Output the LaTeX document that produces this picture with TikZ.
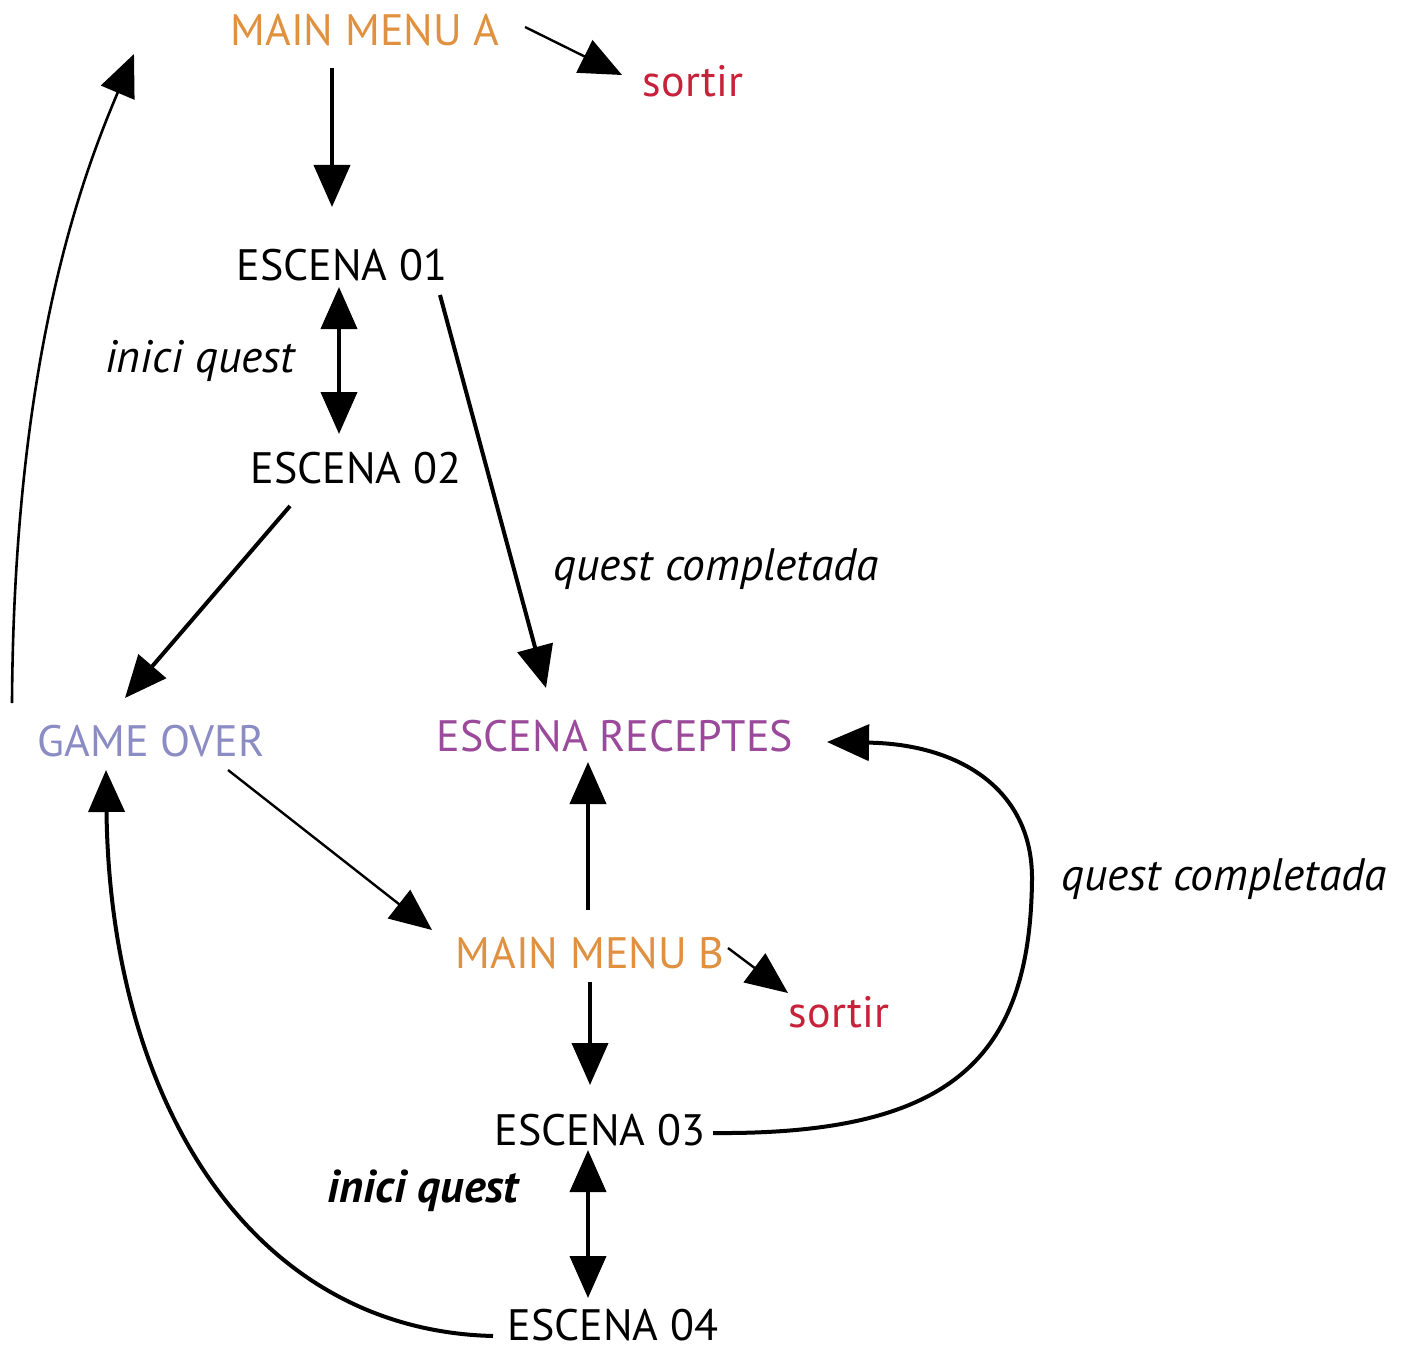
\documentclass[tikz,border=0pt]{standalone}
\usepackage{fontspec}
\setmainfont{PT Sans}
\usetikzlibrary{arrows.meta}
\definecolor{menuor}{HTML}{E0913F}
\definecolor{exitred}{HTML}{C8213A}
\definecolor{govio}{HTML}{8B8CC4}
\definecolor{recpur}{HTML}{9B4A9B}
\begin{document}
\begin{tikzpicture}[x=1pt,y=-1pt,
  lbl/.style={anchor=base,inner sep=0pt,font=\fontsize{44}{48}\selectfont},
  ital/.style={anchor=base,inner sep=0pt,font=\fontsize{45.5}{48}\selectfont\itshape},
  arr/.style={line width=4pt,-{Triangle[length=42pt,width=36pt]}},
  darr/.style={line width=4pt,{Triangle[length=42pt,width=36pt]}-{Triangle[length=42pt,width=36pt]}},
  thin/.style={line width=2.4pt,-{Triangle[length=42pt,width=36pt]}}]
\useasboundingbox (0,0) rectangle (1408,1348);
% nodes
\node[lbl,text=menuor] (mma) at (365,46) {MAIN MENU A};
\node[lbl,text=exitred] (sa) at (693,97) {sortir};
\node[lbl] (e01) at (342,280) {ESCENA 01};
\node[ital] (iq1) at (200,372) {inici quest};
\node[lbl] (e02) at (356,483) {ESCENA 02};
\node[ital] (qc1) at (716,580) {quest completada};
\node[lbl,text=govio] (go) at (151,756) {GAME OVER};
\node[lbl,text=recpur] (er) at (615,751) {ESCENA RECEPTES};
\node[ital] (qc2) at (1224,890) {quest completada};
\node[lbl,text=menuor] (mmb) at (590,968) {MAIN MENU B};
\node[lbl,text=exitred] (sb) at (839,1027) {sortir};
\node[lbl] (e03) at (600,1145) {ESCENA 03};
\node[ital,font=\fontsize{46}{48}\selectfont\bfseries\itshape] (iq2) at (423,1202) {inici quest};
\node[lbl] (e04) at (613,1340) {ESCENA 04};
% ports
\coordinate (mma-r) at (525,27);  \coordinate (sa-l) at (622,75);
\coordinate (mma-s) at (332,68);  \coordinate (e01-n) at (332,207);
\coordinate (e01-s) at (339,287); \coordinate (e02-n) at (339,434);
\coordinate (e01-se) at (440,295); \coordinate (er-nw) at (546,688);
\coordinate (e02-sw) at (290,506); \coordinate (go-ne) at (125,698);
\coordinate (go-nw) at (12,703);  \coordinate (mma-w) at (134,54);
\coordinate (go-se) at (228,770); \coordinate (mmb-nw) at (432,930);
\coordinate (mmb-n) at (588,910); \coordinate (er-s) at (588,762);
\coordinate (mmb-e) at (728,948); \coordinate (sb-nw) at (788,993);
\coordinate (mmb-s) at (590,982); \coordinate (e03-n) at (590,1085);
\coordinate (e03-e) at (713,1133); \coordinate (er-e) at (827,742);
\coordinate (e03-s) at (588,1150); \coordinate (e04-n) at (588,1298);
\coordinate (e04-w) at (493,1336); \coordinate (go-s) at (106,770);
% connectors
\draw[thin] (mma-r) -- (sa-l);
\draw[arr] (mma-s) -- (e01-n);
\draw[darr] (e01-s) -- (e02-n);
\draw[arr] (e01-se) -- (er-nw);
\draw[arr] (e02-sw) -- (go-ne);
\draw[line width=2.6pt,-{Triangle[length=42pt,width=36pt]}] (go-nw) .. controls (14,350) and (85,170) .. (mma-w);
\draw[thin] (go-se) -- (mmb-nw);
\draw[arr] (mmb-n) -- (er-s);
\draw[thin] (mmb-e) -- (sb-nw);
\draw[arr] (mmb-s) -- (e03-n);
\draw[arr] (e03-e) .. controls (950,1135) and (1030,1060) .. (1032,880)
   .. controls (1033,790) and (960,744) .. (er-e);
\draw[darr] (e03-s) -- (e04-n);
\draw[arr] (e04-w) .. controls (250,1330) and (110,1100) .. (go-s);
\end{tikzpicture}
\end{document}
